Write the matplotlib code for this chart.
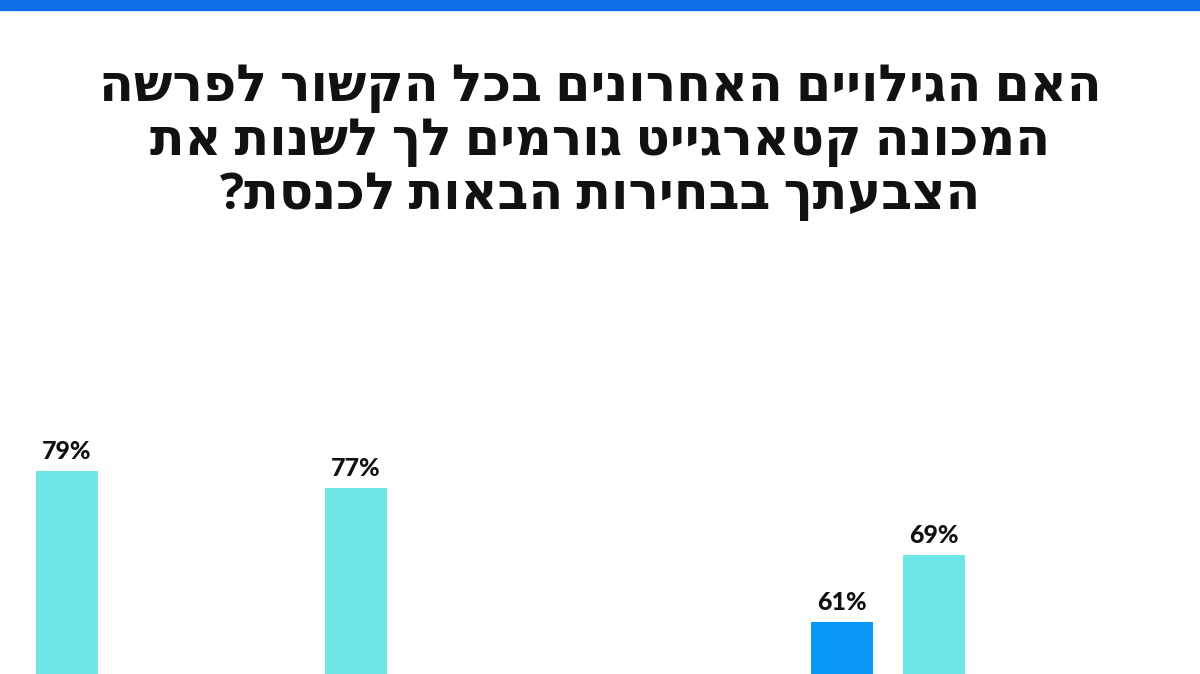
import numpy as np
import matplotlib.pyplot as plt

# נתונים (העמודות הנמוכות נחתכות בתחתית התמונה; הערכים שלהן משוערים)
groups = np.arange(4)
blue_vals = [14, 17, 48, 61]
cyan_vals = [79, 77, 50, 69]
title_lines = [
    "האם הגילויים האחרונים בכל הקשור לפרשה",
    "המכונה קטארגייט גורמים לך לשנות את",
    "הצבעתך בבחירות הבאות לכנסת?",
]

BLUE = "#0a97f5"
CYAN = "#6ee5e6"
TOP_BAND = "#0f6fe6"

plt.rcParams['font.family'] = ['Open Sans', 'DejaVu Sans']

fig = plt.figure(figsize=(12, 6.74), dpi=100)
ax = fig.add_axes([0, 0, 1, 1])

width = 0.2145
offset = 0.318
b1 = ax.bar(groups - offset, blue_vals, width, color=BLUE)
b2 = ax.bar(groups, cyan_vals, width, color=CYAN)

# ציר y: 0 נמצא מתחת לתחתית התמונה
ax.set_xlim(-0.2318, 3.920)
ax.set_ylim(54.8, 135.1)
ax.axis('off')

for bars, vals in [(b1, blue_vals), (b2, cyan_vals)]:
    for rect, v in zip(bars, vals):
        ax.annotate(f"{v}%", (rect.get_x() + rect.get_width() / 2, v),
                    xytext=(0, 8), textcoords='offset pixels',
                    ha='center', va='bottom', fontsize=18,
                    fontweight='black', color='#111111',
                    family=['Lato', 'DejaVu Sans'])

# פס כחול עליון
fig.patches.append(plt.Rectangle((0, 1 - 10 / 674), 1, 10 / 674,
                                 transform=fig.transFigure, color=TOP_BAND))

# כותרת - matplotlib לא הופך כיוון טקסט, לכן הופכים את המחרוזת
for i, line in enumerate(title_lines):
    fig.text(0.5, 1 - (88 + i * 54) / 674, line[::-1], ha='center', va='center',
             fontsize=36.5, fontweight='bold', color='#111111')

fig.savefig('out.png', dpi=100)
